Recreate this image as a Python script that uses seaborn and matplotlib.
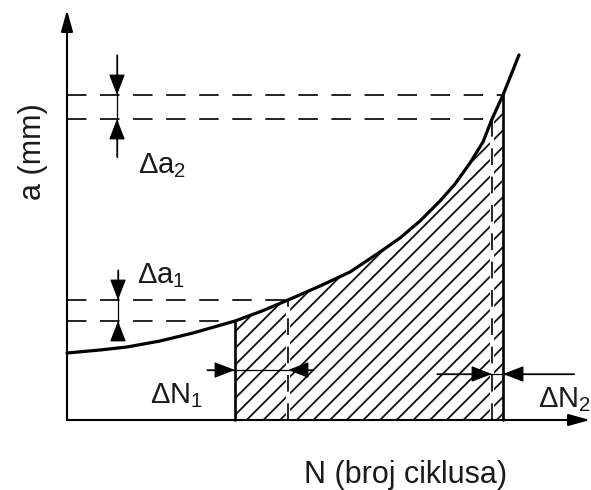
import numpy as np
import pandas as pd
import matplotlib
matplotlib.use("Agg")
import matplotlib.pyplot as plt
import seaborn as sns

# ---- data (N and a in drawing units, origin at the axes corner)
N_curve = [0, 33, 60, 93, 126, 168, 195, 221, 253, 283, 313, 333, 353, 373, 388, 403, 416, 425, 436, 452]
a_curve = [67, 70, 73, 79, 87, 99, 109, 120, 134, 148, 168, 182, 199, 219, 236, 257, 278, 301, 325, 365]

# N1, N1+dN1, N2, N2+dN2 and the matching crack lengths
N_marks = [168, 221, 425, 436]
a_marks = [99, 120, 301, 325]

labels_delta = [r"Δa$_2$", r"Δa$_1$", r"ΔN$_1$", r"ΔN$_2$"]
xlabel = "N (broj ciklusa)"
ylabel = "a (mm)"

sns.set_theme(style="white")
plt.rcParams["font.family"] = ["Liberation Sans", "DejaVu Sans"]
plt.rcParams["mathtext.fontset"] = "custom"
plt.rcParams["mathtext.rm"] = "Liberation Sans"
plt.rcParams["mathtext.it"] = "Liberation Sans"
plt.rcParams["mathtext.default"] = "regular"
plt.rcParams["hatch.linewidth"] = 1.3

fig = plt.figure(figsize=(5.91, 4.90), dpi=100)
ax = fig.add_axes([0, 0, 1, 1])

df = pd.DataFrame({"N": N_curve, "a": a_curve})
sel = df[(df.N >= N_marks[0]) & (df.N <= N_marks[3])]

# hatched area under the curve between N1 and N2+dN2
ax.fill_between(sel.N, sel.a, 0, facecolor="white", edgecolor="#111111",
                hatch="//", linewidth=0, zorder=1)

dash = (10, 7)
# horizontal dashed guides
for n, a in zip(N_marks, a_marks):
    ax.plot([0, n], [a, a], color="#222222", lw=1.4, dashes=dash, zorder=2)

# vertical lines
for i, (n, a) in enumerate(zip(N_marks, a_marks)):
    if i in (0, 3):
        ax.plot([n, n], [0, a], color="black", lw=1.9, zorder=3)
    else:
        ax.plot([n, n], [0, a], color="white", lw=3.0, zorder=2)
        ax.plot([n, n], [0, a], color="black", lw=1.2, dashes=dash, zorder=3)

# curve
sns.lineplot(data=df, x="N", y="a", color="black", lw=2.3, ax=ax, zorder=4)

# axes with arrows
def arrow(tip, tail, lw=0.9, hl=0.65, hw=0.25):
    ax.annotate("", xy=tip, xytext=tail,
                arrowprops=dict(arrowstyle=f"-|>,head_length={hl},head_width={hw}",
                                color="black", lw=lw, shrinkA=0, shrinkB=0,
                                mutation_scale=20), zorder=5)

arrow((0, 410), (0, 0), lw=1.5, hl=0.65, hw=0.18)
arrow((523, 0), (0, 0), lw=1.5, hl=0.65, hw=0.18)

# delta-a markers
xa2, xa1 = 50, 51
ax.plot([xa2, xa2], [365, 263], color="black", lw=0.9, zorder=5)
arrow((xa2, a_marks[3]), (xa2, 365))
arrow((xa2, a_marks[2]), (xa2, 263))
ax.plot([xa1, xa1], [150, 83], color="black", lw=0.9, zorder=5)
arrow((xa1, a_marks[1]), (xa1, 150))
arrow((xa1, a_marks[0]), (xa1, 83))

# delta-N markers
yn1, yn2 = 50, 46
ax.plot([140, 246], [yn1, yn1], color="black", lw=0.9, zorder=5)
arrow((N_marks[0], yn1), (140, yn1))
arrow((N_marks[1], yn1), (246, yn1))
ax.plot([370, 507], [yn2, yn2], color="black", lw=0.9, zorder=5)
arrow((N_marks[2], yn2), (370, yn2))
arrow((N_marks[3], yn2), (507, yn2))

tc = "#1a1a1a"
fs = 21
ax.text(71, 247, labels_delta[0], fontsize=fs, color=tc, ha="left", va="baseline")
ax.text(70, 137, labels_delta[1], fontsize=fs, color=tc, ha="left", va="baseline")
ax.text(83, 17, labels_delta[2], fontsize=fs, color=tc, ha="left", va="baseline")
ax.text(471, 13, labels_delta[3], fontsize=fs, color=tc, ha="left", va="baseline")

ax.text(339, -63, xlabel, fontsize=22, color=tc, ha="center", va="baseline")
ax.text(-34, 268, ylabel, fontsize=22, color=tc, ha="center", va="center", rotation=90)

ax.set_xlim(-67, 524)
ax.set_ylim(-70, 420)
ax.axis("off")

fig.savefig("out.png", dpi=100, facecolor="white")
